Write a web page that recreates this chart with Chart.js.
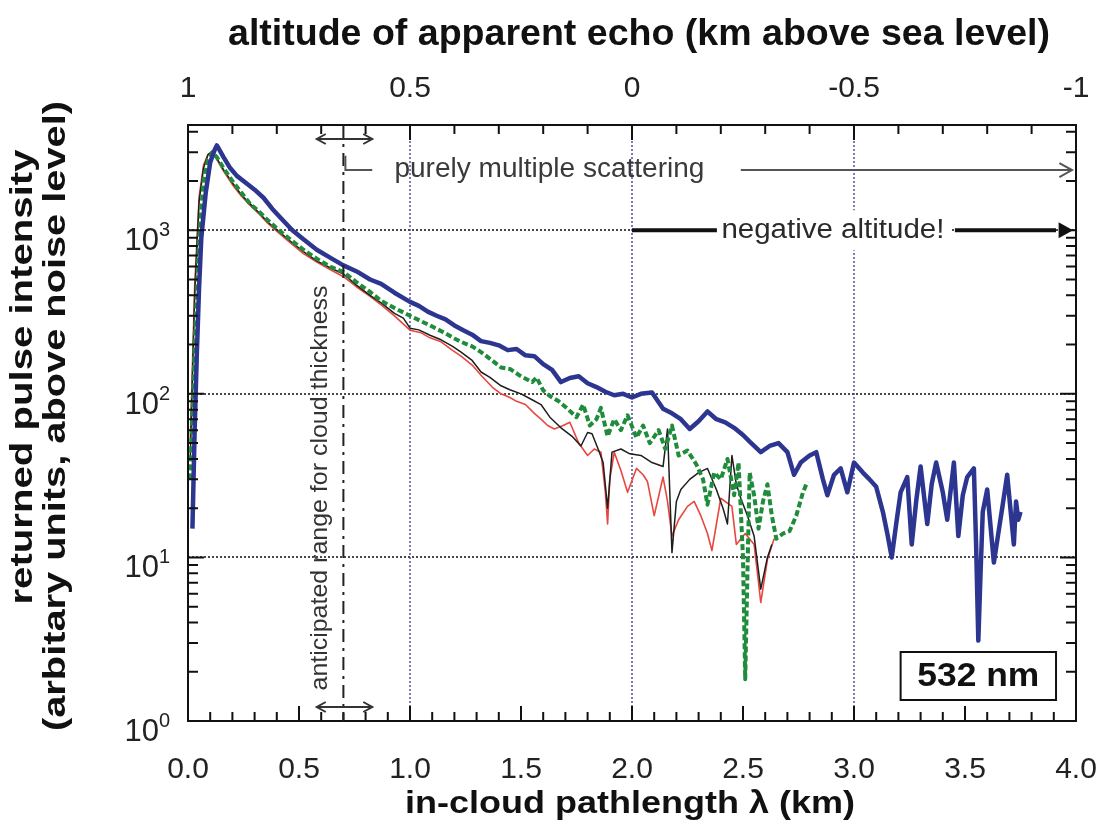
<!DOCTYPE html>
<html>
<head>
<meta charset="utf-8">
<title>Returned pulse intensity, 532 nm</title>
<script src="https://cdn.jsdelivr.net/npm/chart.js@4.4.1/dist/chart.umd.min.js"></script>
<style>
  html, body { margin: 0; padding: 0; background: #fff; }
  #wrap { position: relative; width: 1102px; height: 826px; }
</style>
</head>
<body>
<div id="wrap"><canvas id="pulse"></canvas></div>
<script>
// [pathlength km, intensity] for the four 532 nm returns
const blueTrace = [
  [0.02, 15], [0.03, 60], [0.04, 180], [0.05, 450], [0.06, 900], [0.08, 1700], [0.10, 2600],
  [0.12, 3100], [0.13, 3300], [0.16, 2800], [0.19, 2400], [0.22, 2150], [0.26, 1950], [0.30, 1770],
  [0.34, 1580], [0.38, 1350], [0.42, 1180], [0.47, 1000], [0.52, 880], [0.58, 760], [0.64, 680],
  [0.70, 610], [0.76, 560], [0.82, 500], [0.87, 470], [0.93, 415], [1.00, 365], [1.04, 345],
  [1.08, 318], [1.12, 300], [1.16, 285], [1.20, 262], [1.24, 245], [1.28, 230], [1.32, 210],
  [1.36, 205], [1.40, 198], [1.44, 185], [1.48, 188], [1.52, 172], [1.56, 170], [1.60, 152],
  [1.64, 140], [1.68, 118], [1.72, 125], [1.76, 128], [1.80, 116], [1.84, 110], [1.88, 103],
  [1.92, 98], [1.96, 100], [2.00, 95], [2.04, 100], [2.09, 102], [2.14, 81], [2.18, 76],
  [2.22, 70], [2.26, 61], [2.30, 68], [2.34, 78], [2.38, 70], [2.42, 67], [2.46, 62], [2.50, 56],
  [2.53, 51], [2.58, 44], [2.62, 48], [2.66, 50], [2.70, 44], [2.73, 32], [2.76, 38], [2.80, 42],
  [2.83, 44], [2.86, 30], [2.88, 24], [2.91, 32], [2.94, 35], [2.97, 25], [3.00, 38], [3.04, 33],
  [3.07, 30], [3.10, 27], [3.13, 19], [3.15, 14], [3.17, 10], [3.19, 16], [3.21, 25], [3.24, 31],
  [3.26, 12], [3.28, 22], [3.30, 36], [3.33, 16], [3.35, 28], [3.37, 38], [3.40, 25], [3.42, 17],
  [3.45, 38], [3.47, 13.5], [3.49, 24], [3.51, 31], [3.54, 35], [3.55, 12], [3.56, 3.1], [3.57, 8],
  [3.58, 19], [3.60, 26], [3.63, 9.3], [3.65, 14], [3.67, 21], [3.69, 32], [3.72, 12], [3.73, 22],
  [3.74, 17], [3.75, 19]
];

const greenTrace = [
  [0.01, 30], [0.03, 200], [0.05, 900], [0.07, 2000], [0.09, 2700], [0.11, 3000], [0.13, 2800],
  [0.16, 2400], [0.20, 2000], [0.24, 1700], [0.28, 1450], [0.32, 1300], [0.36, 1150], [0.41, 1000],
  [0.46, 880], [0.52, 760], [0.58, 670], [0.64, 600], [0.70, 555], [0.76, 480], [0.82, 420],
  [0.87, 370], [0.93, 335], [1.00, 300], [1.05, 278], [1.09, 262], [1.15, 238], [1.20, 218],
  [1.23, 208], [1.28, 195], [1.32, 180], [1.37, 160], [1.41, 145], [1.45, 142], [1.50, 128],
  [1.55, 118], [1.57, 126], [1.60, 105], [1.63, 97], [1.67, 90], [1.71, 81], [1.75, 72], [1.78, 86],
  [1.81, 64], [1.84, 70], [1.86, 82], [1.89, 55], [1.92, 70], [1.95, 60], [1.98, 74], [2.02, 54],
  [2.05, 64], [2.08, 50], [2.12, 60], [2.15, 46], [2.18, 64], [2.21, 42], [2.25, 45], [2.29, 37],
  [2.32, 30], [2.34, 21], [2.37, 33], [2.40, 30], [2.43, 40], [2.46, 24], [2.48, 38], [2.50, 10],
  [2.51, 1.8], [2.52, 8], [2.53, 33], [2.55, 24], [2.57, 15], [2.59, 22], [2.61, 28], [2.63, 18],
  [2.65, 13], [2.68, 14], [2.71, 14.5], [2.74, 18], [2.77, 25], [2.79, 29]
];

const blackTrace = [
  [0.01, 40], [0.03, 400], [0.05, 1500], [0.07, 2400], [0.09, 2900], [0.11, 3050], [0.13, 2750],
  [0.16, 2350], [0.20, 1950], [0.24, 1650], [0.28, 1450], [0.32, 1280], [0.36, 1120], [0.41, 980],
  [0.46, 860], [0.52, 740], [0.58, 650], [0.64, 590], [0.70, 540], [0.76, 460], [0.82, 400],
  [0.87, 360], [0.93, 310], [0.97, 290], [1.00, 252], [1.04, 246], [1.09, 228], [1.14, 214],
  [1.19, 196], [1.23, 180], [1.28, 160], [1.32, 136], [1.36, 126], [1.41, 112], [1.45, 106],
  [1.50, 100], [1.55, 92], [1.59, 86], [1.63, 72], [1.68, 62], [1.73, 55], [1.77, 48], [1.80, 58],
  [1.82, 57], [1.85, 45], [1.87, 38], [1.89, 20], [1.91, 44], [1.95, 46], [1.99, 43], [2.04, 42],
  [2.09, 38], [2.14, 36], [2.16, 61], [2.18, 10.7], [2.20, 22], [2.22, 26], [2.26, 30], [2.30, 33],
  [2.34, 35], [2.38, 26], [2.41, 20], [2.43, 16], [2.45, 42], [2.47, 28], [2.49, 23], [2.52, 18],
  [2.55, 13.5], [2.58, 6.4], [2.61, 10], [2.63, 12]
];

const redTrace = [
  [0.01, 50], [0.02, 150], [0.03, 450], [0.05, 1600], [0.07, 2500], [0.09, 2900], [0.11, 3000],
  [0.13, 2700], [0.16, 2300], [0.20, 1900], [0.24, 1620], [0.28, 1420], [0.32, 1260], [0.36, 1100],
  [0.41, 960], [0.46, 840], [0.52, 720], [0.58, 640], [0.64, 575], [0.70, 520], [0.76, 450],
  [0.82, 395], [0.87, 350], [0.93, 300], [1.00, 245], [1.05, 236], [1.09, 220], [1.14, 208],
  [1.19, 185], [1.23, 170], [1.28, 150], [1.32, 130], [1.37, 110], [1.41, 100], [1.45, 95],
  [1.48, 90], [1.52, 86], [1.56, 76], [1.59, 70], [1.62, 64], [1.65, 61], [1.69, 64], [1.72, 67],
  [1.76, 50], [1.80, 42], [1.83, 46], [1.86, 44], [1.88, 25], [1.89, 16], [1.90, 30], [1.92, 44],
  [1.95, 34], [1.98, 25], [2.02, 35], [2.05, 32], [2.07, 29], [2.10, 18], [2.14, 31], [2.16, 22],
  [2.18, 13.5], [2.21, 17], [2.25, 20.5], [2.28, 22], [2.31, 18], [2.34, 14], [2.36, 11], [2.40, 23],
  [2.45, 20.5], [2.47, 12], [2.51, 14], [2.55, 12], [2.57, 7], [2.58, 5.3], [2.61, 9.7], [2.64, 13]
];

// axis labels
const pathLabels = [0.0, 0.5, 1.0, 1.5, 2.0, 2.5, 3.0, 3.5, 4.0];
const altitudeLabels = [1, 0.5, 0, -0.5, -1];
const intensityDecades = [1, 10, 100, 1000];
const intensityMax = 4400;

// cloud thickness guide (km) and the range arrows around it
const thicknessGuide = 0.7;
const thicknessRange = [0.58, 0.83];

const FONT = "'Liberation Sans', Arial, Helvetica, sans-serif";

const onStep = (v, step) => Math.abs(v / step - Math.round(v / step)) < 1e-6;

// minor tick values
const pathTicks = [];
for (let i = 0; i <= 40; i++) pathTicks.push(i / 10);
const altitudeTicks = [];
for (let i = -10; i <= 10; i++) altitudeTicks.push(i / 10);
const intensityTicks = [];
intensityDecades.forEach(d => {
  for (let k = 1; k <= 9; k++) if (k * d <= intensityMax) intensityTicks.push(k * d);
});

function trace(label, points, color, width, dash) {
  return {
    label,
    data: points.map(([x, y]) => ({ x, y })),
    borderColor: color,
    borderWidth: width,
    borderDash: dash,
    borderJoinStyle: 'round',
    pointRadius: 0,
    tension: 0,
    fill: false
  };
}

// text squeezed or stretched along its baseline to a given length
function fitText(ctx, text, cx, cy, length, font, color, angle = 0) {
  ctx.save();
  ctx.font = font;
  ctx.fillStyle = color;
  ctx.textAlign = 'center';
  ctx.textBaseline = 'middle';
  ctx.translate(cx, cy);
  ctx.rotate(angle);
  ctx.scale(length / ctx.measureText(text).width, 1);
  ctx.fillText(text, 0, 0);
  ctx.restore();
}

function arrowHead(ctx, x, y, dir, size, open) {
  ctx.beginPath();
  ctx.moveTo(x - dir * size * 1.8, y - size);
  ctx.lineTo(x, y);
  ctx.lineTo(x - dir * size * 1.8, y + size);
  if (open) {
    ctx.stroke();
  } else {
    ctx.closePath();
    ctx.fill();
  }
}

// keep the end labels from pulling the plot area inwards
const noEdgePadding = s => {
  s.paddingLeft = 0;
  s.paddingRight = 0;
};

const decorations = {
  id: 'decorations',
  afterDatasetsDraw(chart) {
    const { ctx, chartArea: a, scales: { x, x2, y } } = chart;
    ctx.save();

    // frame and inward ticks
    ctx.strokeStyle = '#111';
    ctx.lineWidth = 2;
    ctx.beginPath();
    x.ticks.forEach(t => {
      const px = x.getPixelForValue(t.value);
      const len = onStep(t.value, 0.5) ? 15 : 9;
      ctx.moveTo(px, a.bottom);
      ctx.lineTo(px, a.bottom - len);
    });
    x2.ticks.forEach(t => {
      const px = x2.getPixelForValue(t.value);
      const len = onStep(t.value, 0.5) ? 15 : 9;
      ctx.moveTo(px, a.top);
      ctx.lineTo(px, a.top + len);
    });
    y.ticks.forEach(t => {
      const py = y.getPixelForValue(t.value);
      const len = intensityDecades.includes(t.value) ? 16 : 10;
      ctx.moveTo(a.left, py);
      ctx.lineTo(a.left + len, py);
      ctx.moveTo(a.right, py);
      ctx.lineTo(a.right - len, py);
    });
    ctx.stroke();
    ctx.strokeRect(a.left, a.top, a.width, a.height);

    // dash-dot guide for the expected cloud thickness
    const gx = x.getPixelForValue(thicknessGuide);
    ctx.strokeStyle = '#222';
    ctx.setLineDash([13, 6, 3, 6]);
    ctx.beginPath();
    ctx.moveTo(gx, a.top);
    ctx.lineTo(gx, a.bottom);
    ctx.stroke();
    ctx.setLineDash([]);

    // double arrows marking the thickness range
    const r0 = x.getPixelForValue(thicknessRange[0]);
    const r1 = x.getPixelForValue(thicknessRange[1]);
    ctx.strokeStyle = '#333';
    ctx.lineWidth = 2;
    [a.top + 14, a.bottom - 14].forEach(ay => {
      ctx.beginPath();
      ctx.moveTo(r0, ay);
      ctx.lineTo(r1, ay);
      ctx.stroke();
      arrowHead(ctx, r0, ay, -1, 5, true);
      arrowHead(ctx, r1, ay, 1, 5, true);
    });
    fitText(ctx, 'anticipated range for cloud thickness', x.getPixelForValue(0.595), a.bottom - 233,
      405, `24px ${FONT}`, '#333', -Math.PI / 2);

    // purely multiple scattering
    const sy = y.getPixelForValue(2335);
    ctx.strokeStyle = '#555';
    ctx.lineWidth = 2;
    ctx.beginPath();
    ctx.moveTo(gx + 2, y.getPixelForValue(2850));
    ctx.lineTo(gx + 2, sy);
    ctx.lineTo(r1, sy);
    ctx.stroke();
    fitText(ctx, 'purely multiple scattering', x.getPixelForValue(1.628), sy, 310, `27px ${FONT}`, '#3a3a3a');
    ctx.beginPath();
    ctx.moveTo(x.getPixelForValue(2.49), sy);
    ctx.lineTo(a.right - 4, sy);
    ctx.stroke();
    arrowHead(ctx, a.right - 4, sy, 1, 7, true);

    // negative altitude
    const ny = y.getPixelForValue(1000);
    const nx = x.getPixelForValue(2.905);
    ctx.fillStyle = '#fff';
    ctx.fillRect(nx - 118, ny - 20, 236, 40);
    ctx.strokeStyle = '#111';
    ctx.fillStyle = '#111';
    ctx.lineWidth = 4;
    ctx.beginPath();
    ctx.moveTo(x.getPixelForValue(2.0), ny);
    ctx.lineTo(nx - 116, ny);
    ctx.moveTo(nx + 122, ny);
    ctx.lineTo(a.right - 20, ny);
    ctx.stroke();
    arrowHead(ctx, a.right - 3, ny, 1, 8, false);
    fitText(ctx, 'negative altitude!', nx, ny, 223, `27px ${FONT}`, '#2a2a2a');

    // wavelength box
    const bx0 = x.getPixelForValue(3.21);
    const bx1 = x.getPixelForValue(3.91);
    ctx.fillStyle = '#fff';
    ctx.fillRect(bx0, a.bottom - 69, bx1 - bx0, 48);
    ctx.strokeStyle = '#111';
    ctx.lineWidth = 2;
    ctx.strokeRect(bx0, a.bottom - 69, bx1 - bx0, 48);
    fitText(ctx, '532 nm', (bx0 + bx1) / 2, a.bottom - 44, 122, `bold 34px ${FONT}`, '#111');

    ctx.restore();
  },
  afterDraw(chart) {
    const { ctx, chartArea: a, scales: { y } } = chart;
    ctx.save();

    // decade labels with superscript exponents
    ctx.fillStyle = '#222';
    ctx.textAlign = 'right';
    ctx.textBaseline = 'alphabetic';
    intensityDecades.forEach(v => {
      const py = y.getPixelForValue(v);
      const exp = String(Math.round(Math.log10(v)));
      ctx.font = `20px ${FONT}`;
      const ew = ctx.measureText(exp).width;
      ctx.fillText(exp, a.left - 18, py + 6);
      ctx.font = `31px ${FONT}`;
      ctx.fillText('10', a.left - 18 - ew, py + 20);
    });

    // axis titles
    const bold = size => `bold ${size}px ${FONT}`;
    fitText(ctx, 'altitude of apparent echo (km above sea level)', 639, 35, 822, bold(36), '#111');
    fitText(ctx, 'in-cloud pathlength \u03bb (km)', 630, 804, 450, bold(32), '#111');
    fitText(ctx, 'returned pulse intensity', 23, 377, 455, bold(32), '#111', -Math.PI / 2);
    fitText(ctx, '(arbitary units, above noise level)', 56, 416, 630, bold(32), '#111', -Math.PI / 2);

    ctx.restore();
  }
};

new Chart(document.getElementById('pulse'), {
  type: 'line',
  data: {
    datasets: [
      trace('blue', blueTrace, '#2c3690', 4.5, []),
      trace('green', greenTrace, '#1f8c3b', 4, [6, 3]),
      trace('black', blackTrace, '#1e1e1e', 1.5, []),
      trace('red', redTrace, '#e8473f', 1.6, [])
    ]
  },
  options: {
    responsive: true,
    maintainAspectRatio: false,
    animation: false,
    devicePixelRatio: 1,
    layout: { padding: { right: 26 } },
    plugins: {
      legend: { display: false },
      tooltip: { enabled: false }
    },
    scales: {
      x: {
        type: 'linear',
        position: 'bottom',
        min: 0,
        max: 4,
        afterBuildTicks: s => { s.ticks = pathTicks.map(v => ({ value: v })); },
        afterFit: s => { s.height = 105; noEdgePadding(s); },
        ticks: {
          autoSkip: false,
          maxRotation: 0,
          padding: 31,
          color: '#222',
          font: { family: FONT, size: 30 },
          callback: v => pathLabels.some(p => Math.abs(p - v) < 1e-6) ? v.toFixed(1) : ''
        },
        grid: {
          drawTicks: false,
          lineWidth: 2,
          color: c => (c.tick && c.tick.value > 0 && c.tick.value < 4 && onStep(c.tick.value, 1))
            ? '#7c7cb8' : 'rgba(0,0,0,0)'
        },
        border: { display: false, dash: [2, 2] }
      },
      x2: {
        type: 'linear',
        position: 'top',
        reverse: true,
        min: -1,
        max: 1,
        afterBuildTicks: s => { s.ticks = altitudeTicks.map(v => ({ value: v })); },
        afterFit: s => { s.height = 125; noEdgePadding(s); },
        ticks: {
          autoSkip: false,
          maxRotation: 0,
          padding: 18,
          color: '#222',
          font: { family: FONT, size: 30 },
          callback: v => altitudeLabels.some(p => Math.abs(p - v) < 1e-6) ? String(Math.round(v * 10) / 10) : ''
        },
        grid: { display: false, drawTicks: false },
        border: { display: false }
      },
      y: {
        type: 'logarithmic',
        position: 'left',
        min: 1,
        max: intensityMax,
        afterBuildTicks: s => { s.ticks = intensityTicks.map(v => ({ value: v })); },
        afterFit: s => { s.width = 188; },
        ticks: { display: false },
        grid: {
          drawTicks: false,
          lineWidth: 2,
          color: c => (c.tick && c.tick.value > 1 && intensityDecades.includes(c.tick.value))
            ? '#4a4a4a' : 'rgba(0,0,0,0)'
        },
        border: { display: false, dash: [2, 2] }
      }
    }
  },
  plugins: [decorations]
});
</script>
</body>
</html>
